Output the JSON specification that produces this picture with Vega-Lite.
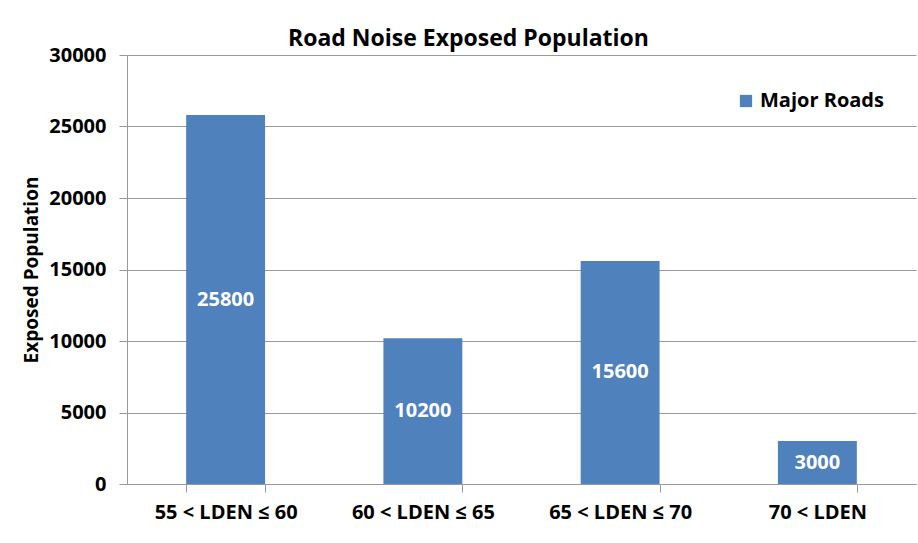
{
  "$schema": "https://vega.github.io/schema/vega-lite/v6.json",
  "autosize": {"type": "none"},
  "width": 789,
  "height": 429,
  "padding": {"left": 127, "top": 55, "right": 2, "bottom": 59},
  "background": "white",
  "title": {
    "text": "Road Noise Exposed Population",
    "font": "Open Sans",
    "fontSize": 23,
    "fontWeight": "bold",
    "color": "#000000",
    "anchor": "start",
    "frame": "group",
    "dx": 161,
    "offset": -6
  },
  "data": {
    "values": [
      {"band": "55 < LDEN ≤ 60", "population": 25800, "series": "Major Roads"},
      {"band": "60 < LDEN ≤ 65", "population": 10200, "series": "Major Roads"},
      {"band": "65 < LDEN ≤ 70", "population": 15600, "series": "Major Roads"},
      {"band": "70 < LDEN", "population": 3000, "series": "Major Roads"}
    ]
  },
  "config": {
    "view": {"stroke": null},
    "font": "Open Sans"
  },
  "encoding": {
    "x": {
      "field": "band",
      "type": "nominal",
      "sort": null,
      "title": null,
      "scale": {"paddingInner": 0.6, "paddingOuter": 0.3},
      "axis": {
        "labelAngle": 0,
        "labelFont": "Open Sans",
        "labelFontSize": 20,
        "labelFontWeight": "bold",
        "labelColor": "#000000",
        "labelPadding": 10,
        "tickBand": "extent",
        "tickSize": 8,
        "tickColor": "#999999",
        "domainColor": "#999999",
        "grid": false
      }
    },
    "y": {
      "field": "population",
      "type": "quantitative",
      "title": "Exposed Population",
      "scale": {"domain": [0, 30000], "nice": false},
      "axis": {
        "values": [0, 5000, 10000, 15000, 20000, 25000, 30000],
        "format": "d",
        "labelFont": "Open Sans",
        "labelFontSize": 20,
        "labelFontWeight": "bold",
        "labelColor": "#000000",
        "labelPadding": 13,
        "tickSize": 8,
        "tickColor": "#999999",
        "domainColor": "#999999",
        "gridColor": "#999999",
        "titleFont": "Open Sans",
        "titleFontSize": 19,
        "titleFontWeight": "bold",
        "titleColor": "#000000",
        "titlePadding": 7
      }
    }
  },
  "layer": [
    {
      "mark": {"type": "bar", "color": "#4F81BD"},
      "encoding": {
        "color": {
          "field": "series",
          "type": "nominal",
          "scale": {"range": ["#4F81BD"]},
          "legend": {
            "title": null,
            "orient": "none",
            "legendX": 609,
            "legendY": 36,
            "symbolType": "square",
            "symbolSize": 150,
            "labelFont": "Open Sans",
            "labelFontSize": 20,
            "labelFontWeight": "bold",
            "labelColor": "#000000"
          }
        }
      }
    },
    {
      "transform": [{"calculate": "datum.population / 2", "as": "mid"}],
      "mark": {"type": "text", "color": "white", "font": "Open Sans", "fontSize": 20, "fontWeight": "bold", "baseline": "middle"},
      "encoding": {
        "y": {"field": "mid", "type": "quantitative"},
        "text": {"field": "population", "type": "quantitative", "format": "d"}
      }
    }
  ]
}
